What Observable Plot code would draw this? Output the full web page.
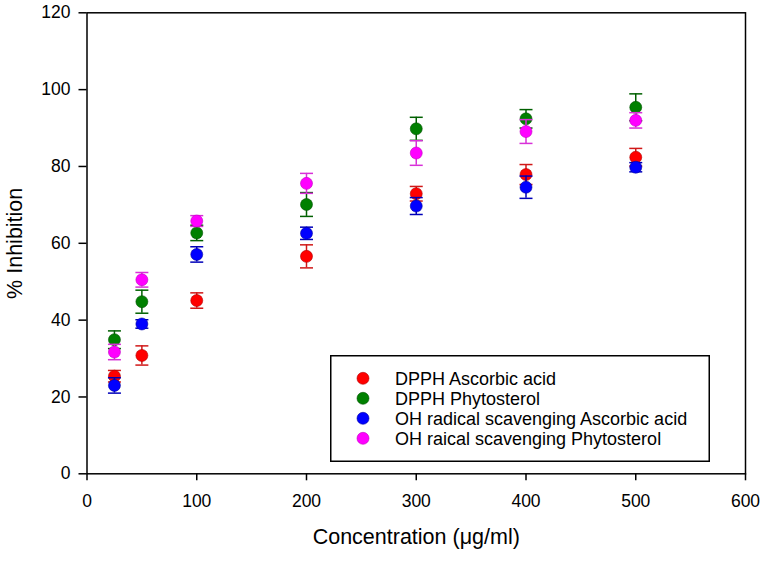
<!DOCTYPE html>
<html>
<head>
<meta charset="utf-8">
<script src="https://cdn.jsdelivr.net/npm/d3@7"></script>
<script src="https://cdn.jsdelivr.net/npm/@observablehq/plot@0.6"></script>
<style>
  html, body { margin: 0; padding: 0; background: #fff; }
  #wrap { position: relative; width: 765px; height: 561px; font-family: Arial, "Liberation Sans", sans-serif; }
  #legend { position: absolute; left: 330px; top: 355px; }
</style>
</head>
<body>
<div id="wrap"><div id="chart"></div><div id="legend"></div></div>
<script>
// ---- data ----
const concentration = [25, 50, 100, 200, 300, 400, 500];
const xTicks = [0, 100, 200, 300, 400, 500, 600];
const yTicks = [0, 20, 40, 60, 80, 100, 120];

const seriesNames = [
  "DPPH Ascorbic acid",
  "DPPH Phytosterol",
  "OH radical scavenging Ascorbic acid",
  "OH raical scavenging Phytosterol"
];
const dpphAscorbic     = [25.4, 30.8, 45.1, 56.6, 72.9, 77.9, 82.4];
const dpphAscorbicErr  = [1.5, 2.5, 2.0, 3.0, 1.9, 2.6, 2.3];
const dpphPhyto        = [34.9, 44.8, 62.7, 70.1, 89.8, 92.4, 95.4];
const dpphPhytoErr     = [2.3, 3.0, 2.0, 3.1, 3.0, 2.4, 3.5];
const ohAscorbic       = [23.0, 39.0, 57.1, 62.6, 69.7, 74.6, 79.8];
const ohAscorbicErr    = [2.0, 1.1, 2.0, 1.6, 2.2, 2.9, 1.2];
const ohPhyto          = [31.7, 50.5, 65.8, 75.6, 83.5, 89.1, 92.0];
const ohPhytoErr       = [2.0, 1.9, 1.4, 2.6, 3.2, 3.1, 2.0];

const seriesValues = [dpphAscorbic, dpphPhyto, ohAscorbic, ohPhyto];
const seriesErrors = [dpphAscorbicErr, dpphPhytoErr, ohAscorbicErr, ohPhytoErr];
const dotColors  = ["#ff0000", "#008000", "#0000ff", "#ff00ff"];
const dotStrokes = ["#b00000", "#005000", "#0000a0", "#c000c0"];
const barColors  = ["#d01818", "#006000", "#0000b8", "#d830d8"];

// ---- build table ----
const series = seriesNames.map((name, i) => concentration.map((c, j) => ({
  name, x: c, y: seriesValues[i][j],
  lo: seriesValues[i][j] - seriesErrors[i][j],
  hi: seriesValues[i][j] + seriesErrors[i][j]
})));

const capSymbol = {
  draw(context, size) {
    const r = Math.sqrt(size / Math.PI);
    context.moveTo(-r, 0);
    context.lineTo(r, 0);
  }
};

const font = 'Arial, "Liberation Sans", sans-serif';

const marks = [
  Plot.frame({stroke: "black", strokeWidth: 1.5}),
  Plot.axisX({ticks: xTicks, tickSize: 7, tickFormat: () => "", label: null, strokeWidth: 1.5}),
  Plot.axisY({ticks: yTicks, tickSize: 8, tickFormat: () => "", label: null, strokeWidth: 1.5}),
  Plot.text(xTicks, {x: d => d, frameAnchor: "bottom", dy: 20.3, lineAnchor: "top", textAnchor: "middle", fontSize: 17.5, fill: "black", text: d => String(d)}),
  Plot.text(yTicks, {y: d => d, frameAnchor: "left", dx: -16.5, lineAnchor: "middle", textAnchor: "end", fontSize: 17.5, fill: "black", text: d => String(d)}),
  Plot.text(["Concentration (\u03bcg/ml)"], {frameAnchor: "bottom", dy: 63.8, fontSize: 21.5, lineAnchor: "middle", textAnchor: "middle", fill: "black"}),
  Plot.text(["% Inhibition"], {frameAnchor: "left", dx: -71.7, rotate: -90, fontSize: 21.5, lineAnchor: "middle", textAnchor: "middle", fill: "black"})
];

series.forEach((rows, i) => {
  marks.push(
    Plot.ruleX(rows, {x: "x", y1: "lo", y2: "hi", stroke: barColors[i], strokeWidth: 1.5}),
    Plot.dot(rows, {x: "x", y: "hi", symbol: capSymbol, r: 6.5, fill: "none", stroke: barColors[i], strokeWidth: 1.5}),
    Plot.dot(rows, {x: "x", y: "lo", symbol: capSymbol, r: 6.5, fill: "none", stroke: barColors[i], strokeWidth: 1.5}),
    Plot.dot(rows, {x: "x", y: "y", r: 6, fill: dotColors[i], stroke: dotStrokes[i], strokeWidth: 0.6})
  );
});

const chart = Plot.plot({
  width: 765,
  height: 561,
  marginLeft: 86.5,
  marginRight: 20,
  marginTop: 12.3,
  marginBottom: 87.7,
  x: {domain: [0, 600]},
  y: {domain: [0, 120]},
  style: {fontFamily: font, color: "black", background: "white", overflow: "visible"},
  marks
});
document.getElementById("chart").appendChild(chart);

// ---- legend (box inside the plot area) ----
const lw = 380, lh = 107;
const lsvg = d3.select("#legend").append("svg")
  .attr("width", lw).attr("height", lh)
  .style("font-family", font);
lsvg.append("rect").attr("x", 0.75).attr("y", 0.75).attr("width", lw - 1.5).attr("height", lh - 1.5)
  .attr("fill", "white").attr("stroke", "black").attr("stroke-width", 1.5);
seriesNames.forEach((name, i) => {
  const cy = 23.3 + i * 20;
  lsvg.append("circle").attr("cx", 33).attr("cy", cy).attr("r", 6)
    .attr("fill", dotColors[i]).attr("stroke", dotStrokes[i]).attr("stroke-width", 0.6);
  lsvg.append("text").attr("x", 65).attr("y", cy).attr("dy", "0.35em")
    .attr("font-size", 18).attr("fill", "black").text(name);
});
</script>
</body>
</html>
